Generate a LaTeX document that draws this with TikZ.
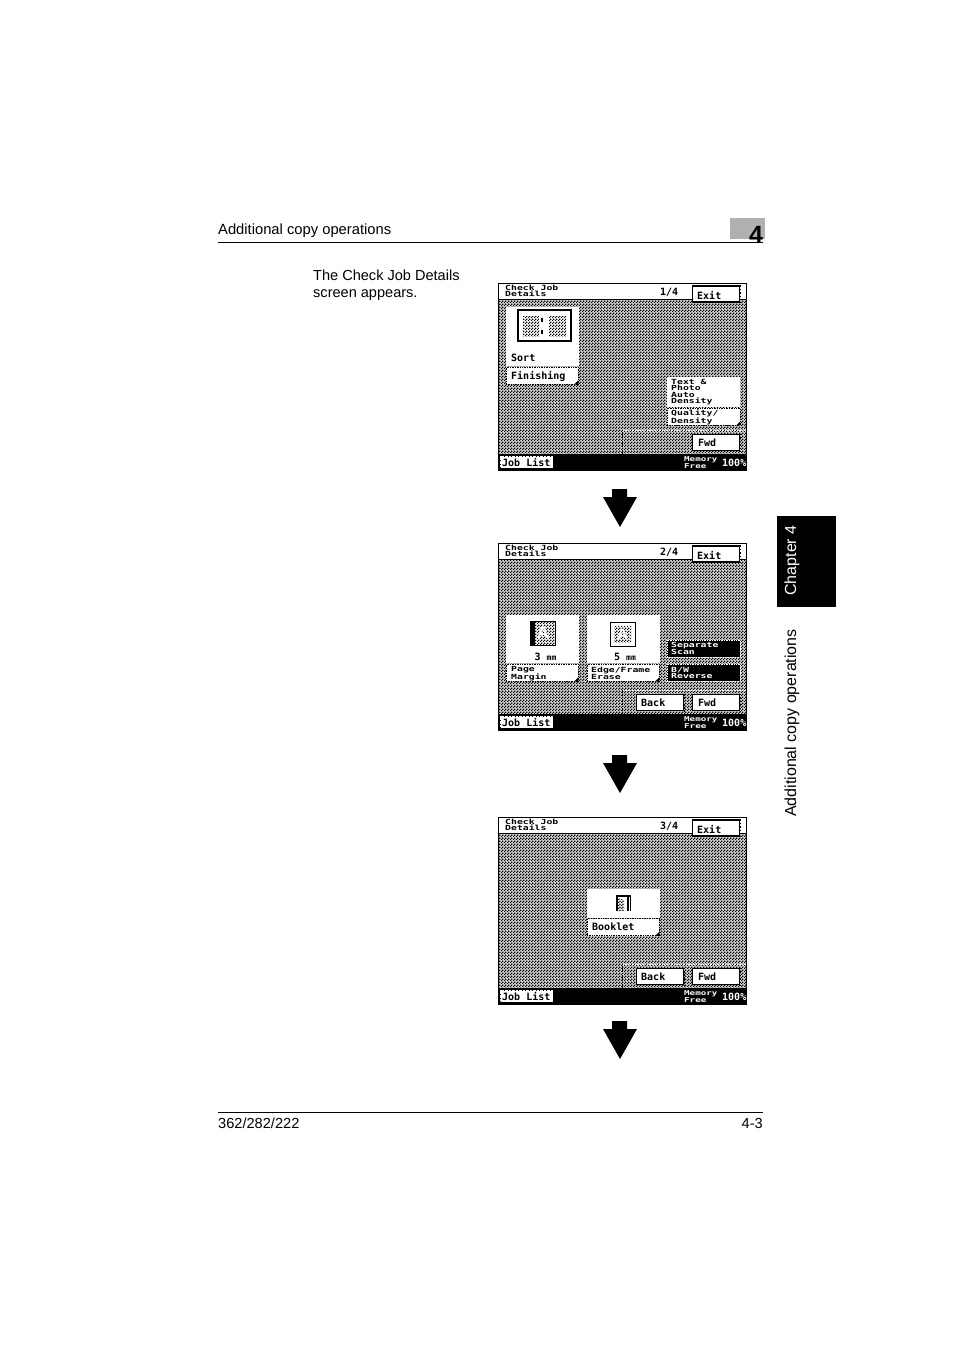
\documentclass[tikz,border=0pt]{standalone}
\usepackage{fontspec}
\setmainfont{Liberation Sans}
\newfontfamily\lcdfont{DejaVu Sans Mono}
\usetikzlibrary{patterns}

\pgfdeclarepatternformonly{lcddither}{\pgfqpoint{0pt}{0pt}}{\pgfqpoint{3pt}{3pt}}{\pgfqpoint{3pt}{3pt}}{
  \pgfpathrectangle{\pgfqpoint{0pt}{0pt}}{\pgfqpoint{1.5pt}{1.5pt}}
  \pgfpathrectangle{\pgfqpoint{1.5pt}{1.5pt}}{\pgfqpoint{1.5pt}{1.5pt}}
  \pgfusepath{fill}
}

\tikzset{
  pagetext/.style={inner sep=0pt, font=\fontsize{14.6}{17}\selectfont},
  lcdtext/.style={inner sep=0pt, anchor=west, align=left, yscale=0.72, transform shape, font=\lcdfont\bfseries\fontsize{9.8}{8.4}\selectfont},
  lcdlarge/.style={inner sep=0pt, anchor=west, font=\lcdfont\bfseries\fontsize{10}{10}\selectfont},
  dither/.style={pattern=lcddither, pattern color=black},
  panel/.style={rectangle, fill=white, inner sep=0pt},
  softkey/.style={rectangle, draw=black, line width=1.1pt, fill=white, minimum width=47pt, minimum height=16pt, inner sep=0pt},
  tabkey/.style={rectangle, draw=black, densely dotted, line width=0.7pt, fill=white, minimum width=72pt, minimum height=17pt, inner sep=0pt},
  darkkey/.style={rectangle, draw=white, densely dotted, line width=0.7pt, fill=black, minimum width=73pt, minimum height=17pt, inner sep=0pt},
}

% dotted right edge of the raised keys
\newcommand{\keyedge}[1]{
  \draw[black, dotted, line width=1.4pt] ([xshift=0.6pt]#1.north east) -- ([xshift=0.6pt]#1.south east);
}
% frame shared by all three screens, #1 is the page number
\newcommand{\lcdframe}[1]{
  \fill[black!18] (0,16) rectangle (248,171);
  \fill[dither] (0,16) rectangle (248,171);
  \fill[black] (0,171) rectangle (248,187);
  \draw[black, line width=0.8pt] (0,0) rectangle (248,187);
  \draw[black, line width=0.5pt] (0,16) -- (248,16);
  \draw[black, densely dotted, line width=0.8pt] (124,147) -- (124,171);
  \draw[white, densely dotted, line width=0.7pt] (125,147) -- (248,147);
  \node[lcdtext] (title) at (7,8) {Check Job\\Details};
  \node[lcdlarge] (page) at (162,9) {#1};
  \node[softkey] (exit) at (218,11) {};
  \keyedge{exit}
  \node[lcdlarge] (exitlabel) at (199,12) {Exit};
  \node[softkey] (fwd) at (218,159.5) {};
  \keyedge{fwd}
  \node[lcdlarge] (fwdlabel) at (200,159.5) {Fwd};
  \node[rectangle, draw=white, densely dotted, fill=white, minimum width=52pt, minimum height=11pt, inner sep=0pt] (joblist) at (28.5,179) {};
  \node[lcdlarge] (joblabel) at (4,179.5) {Job List};
  \node[lcdtext, text=white, font=\lcdfont\bfseries\fontsize{9.2}{8.4}\selectfont] (memory) at (186,179.5) {Memory\\Free};
  \node[lcdlarge, text=white] (level) at (224,179.5) {100\%};
}
\newcommand{\lcdback}{
  \node[softkey] (back) at (162,159.5) {};
  \keyedge{back}
  \node[lcdlarge] (backlabel) at (143,160) {Back};
}
\newcommand{\keycorner}[1]{
  \fill[black] (#1.south east) -- ++(-4,0) -- ++(4,-4) -- cycle;
}
\newcommand{\downblock}[1]{
  \fill[black] (612,#1) -- (627,#1) -- (627,#1+8) -- (637,#1+8) -- (620,#1+38) -- (603,#1+8) -- (612,#1+8) -- cycle;
}

\begin{document}
\begin{tikzpicture}[x=1pt, y=-1pt]
  \useasboundingbox (0,0) rectangle (954,1350);
  \fill[white] (0,0) rectangle (954,1350);

  % running head
  \fill[black!31] (730,218) rectangle (765,239);
  \node[inner sep=0pt, anchor=base, font=\bfseries\fontsize{25}{25}\selectfont] (chapno) at (756,243) {4};
  \node[pagetext, anchor=base west, font=\fontsize{14.75}{17}\selectfont] (head) at (218,234) {Additional copy operations};
  \draw[black, line width=0.8pt] (218,242.5) -- (763,242.5);

  \node[pagetext, anchor=north west, align=left, font=\fontsize{14.55}{17}\selectfont] (intro) at (313,269.5) {The Check Job Details\\screen appears.};

  % side tab
  \fill[black] (777,516) rectangle (836,607);
  \node[pagetext, text=white, rotate=90, font=\fontsize{16}{17}\selectfont] (tabchapter) at (792,560.5) {Chapter 4};
  \node[pagetext, rotate=90, font=\fontsize{16}{17}\selectfont] (tabtitle) at (792,723) {Additional copy operations};

  % first screen
  \begin{scope}[shift={(498,283)}, name prefix=a-]
    \lcdframe{1/4}
    \node[panel, minimum width=73pt, minimum height=59pt] (sortpanel) at (44.5,53.5) {};
    \draw[black, line width=1.2pt, fill=white] (20,27) rectangle (73,58);
    \fill[dither] (25,33) rectangle (41,53);
    \fill[dither] (51,33) rectangle (68,53);
    \fill[black] (43,35) rectangle (44.5,39);
    \fill[black] (43,47) rectangle (44.5,51);
    \node[lcdlarge] (sort) at (13,75) {Sort};
    \node[tabkey] (finishing) at (44,92.5) {};
    \keycorner{finishing}
    \node[lcdlarge] (finishinglabel) at (13,93) {Finishing};
    \node[panel, minimum width=73pt, minimum height=30pt] (qualpanel) at (205.5,109) {};
    \node[lcdtext, font=\lcdfont\bfseries\fontsize{9.8}{8.9}\selectfont] (qualtext) at (173,109) {Text \&\\Photo\\Auto\\Density};
    \node[tabkey, minimum width=73pt] (quality) at (205.5,133.5) {};
    \keycorner{quality}
    \node[lcdtext] (qualitylabel) at (173,134.5) {Quality/\\Density};
  \end{scope}

  \downblock{489}

  % second screen
  \begin{scope}[shift={(498,543)}, name prefix=b-]
    \lcdframe{2/4}
    \lcdback
    \node[panel, minimum width=73pt, minimum height=48pt] (marginpanel) at (44.5,96) {};
    \fill[dither] (32,78) rectangle (57,102);
    \fill[black] (32,78) rectangle (37,102);
    \draw[black, line width=0.8pt] (32,78) rectangle (57,102);
    \node[text=white, inner sep=0pt, font=\bfseries\fontsize{17}{17}\selectfont] (marginA) at (45,90) {A};
    \node[lcdlarge] (marginvalue) at (36.5,114) {3 {\fontsize{8}{8}\selectfont mm}};
    \node[tabkey] (margin) at (44,129.5) {};
    \keycorner{margin}
    \node[lcdtext] (marginlabel) at (13,130.5) {Page\\Margin};
    \node[panel, minimum width=73pt, minimum height=48pt] (erasepanel) at (125.5,96) {};
    \draw[black, line width=1pt] (112,79) rectangle (137,103);
    \fill[dither] (116,83) rectangle (133,99);
    \node[text=white, inner sep=0pt, font=\bfseries\fontsize{15}{15}\selectfont] (eraseA) at (124.5,91) {A};
    \node[lcdlarge] (erasevalue) at (116,114) {5 {\fontsize{8}{8}\selectfont mm}};
    \node[tabkey] (erase) at (125,129.5) {};
    \keycorner{erase}
    \node[lcdtext] (eraselabel) at (93,130.5) {Edge/Frame\\Erase};
    \node[darkkey] (separate) at (205.5,105.5) {};
    \node[lcdtext, text=white] (separatelabel) at (173,105.5) {Separate\\Scan};
    \node[darkkey] (reverse) at (205.5,129.5) {};
    \node[lcdtext, text=white] (reverselabel) at (173,129.5) {B/W\\Reverse};
  \end{scope}

  \downblock{755}

  % third screen
  \begin{scope}[shift={(498,817)}, name prefix=c-]
    \lcdframe{3/4}
    \lcdback
    \node[panel, minimum width=73pt, minimum height=29pt] (bookletpanel) at (125.5,86.5) {};
    \fill[black] (118,78) rectangle (133,94);
    \fill[white] (120,80) rectangle (129,94);
    \fill[white] (130.5,80) rectangle (131.5,94);
    \fill[dither] (120,81) -- (126,83) -- (126,94) -- (120,94) -- cycle;
    \node[tabkey] (booklet) at (125,110) {};
    \keycorner{booklet}
    \node[lcdlarge] (bookletlabel) at (94,110) {Booklet};
  \end{scope}

  \downblock{1021}

  % foot
  \draw[black, line width=0.8pt] (218,1112.5) -- (763,1112.5);
  \node[pagetext, anchor=base west] (model) at (218,1128) {362/282/222};
  \node[pagetext, anchor=base east] (pageno) at (763,1128) {4-3};
\end{tikzpicture}
\end{document}
